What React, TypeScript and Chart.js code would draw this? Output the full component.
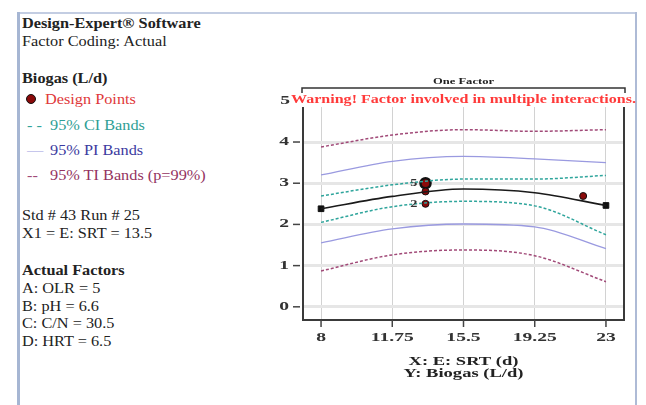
import React, { useEffect, useRef } from "react";
import { Chart, registerables } from "chart.js";
Chart.register(...registerables);

// ---- data ----
const srt = [8, 11.75, 15.5, 19.25, 23];
const predicted = [2.38, 2.68, 2.86, 2.77, 2.46];
const ciUpper = [2.69, 2.96, 3.1, 3.1, 3.19];
const ciLower = [2.05, 2.43, 2.56, 2.45, 1.75];
const piUpper = [3.2, 3.53, 3.65, 3.59, 3.5];
const piLower = [1.55, 1.89, 2.01, 1.94, 1.41];
const tiUpper = [3.88, 4.17, 4.3, 4.26, 4.3];
const tiLower = [0.87, 1.26, 1.38, 1.24, 0.61];
const designX = [13.5, 13.5, 13.5, 21.8];
const designY = [3.0, 2.8, 2.5, 2.69];
const designReps = ["5", "", "2", ""];
const xTicks = [8, 11.75, 15.5, 19.25, 23];
const yTicks = [0, 1, 2, 3, 4];
const yTopLabel = 5;

const SERIF = "'Liberation Serif', 'Times New Roman', serif";

const pts = (xs: number[], ys: number[]) => xs.map((x, i) => ({ x, y: ys[i] }));

// draw text horizontally stretched by sx
function wide(ctx: any, text: string, x: number, y: number, sx: number, align: "left" | "center" | "right") {
  const w = ctx.measureText(text).width * sx;
  let x0 = x;
  if (align === "center") x0 = x - w / 2;
  if (align === "right") x0 = x - w;
  ctx.save();
  ctx.textAlign = "left";
  ctx.translate(x0, y);
  ctx.scale(sx, 1);
  ctx.fillText(text, 0, 0);
  ctx.restore();
}

const overlay = {
  id: "overlay",
  afterDraw(chart: any) {
    const { ctx, chartArea } = chart;
    const { left, right, top, bottom } = chartArea;
    const xs = chart.scales.x;
    const ys = chart.scales.y;
    ctx.save();
    ctx.textBaseline = "middle";
    // frame
    ctx.strokeStyle = "#3a3a3a";
    ctx.lineWidth = 2;
    ctx.beginPath();
    ctx.moveTo(left, top);
    ctx.lineTo(left, bottom);
    ctx.lineTo(right, bottom);
    ctx.lineTo(right, top);
    ctx.stroke();
    // ticks
    ctx.lineWidth = 1.5;
    ctx.strokeStyle = "#444";
    yTicks.forEach((v) => {
      const p = ys.getPixelForValue(v);
      ctx.beginPath();
      ctx.moveTo(left - 10, p);
      ctx.lineTo(left - 3, p);
      ctx.stroke();
    });
    xTicks.forEach((v) => {
      const p = xs.getPixelForValue(v);
      ctx.beginPath();
      ctx.moveTo(p, bottom);
      ctx.lineTo(p, bottom + 7);
      ctx.stroke();
    });
    // tick labels
    ctx.fillStyle = "#333";
    ctx.font = `bold 11.5px ${SERIF}`;
    const tsx = 43 / ctx.measureText("11.75").width;
    xTicks.forEach((v) => {
      wide(ctx, String(v), xs.getPixelForValue(v), 338, tsx, "center");
    });
    yTicks.forEach((v) => {
      wide(ctx, String(v), 289, ys.getPixelForValue(v), tsx, "right");
    });
    // bracket "One Factor"
    ctx.strokeStyle = "#333";
    ctx.lineWidth = 1.5;
    ctx.beginPath();
    ctx.moveTo(left - 1, top - 14);
    ctx.lineTo(left - 1, top - 19);
    ctx.lineTo(right + 1, top - 19);
    ctx.lineTo(right + 1, top - 14);
    ctx.stroke();
    ctx.fillStyle = "#222";
    ctx.font = `bold 8.5px ${SERIF}`;
    const ofs = 61 / ctx.measureText("One Factor").width;
    wide(ctx, "One Factor", (left + right) / 2, top - 25, ofs, "center");
    // top "5" label + warning
    const p5 = ys.getPixelForValue(yTopLabel);
    ctx.font = `bold 11.5px ${SERIF}`;
    ctx.fillStyle = "#333";
    wide(ctx, String(yTopLabel), 290, p5, tsx, "right");
    ctx.fillStyle = "#ff3a3a";
    ctx.font = `bold 13px ${SERIF}`;
    const warn = "Warning! Factor involved in multiple interactions.";
    const wsx = 345 / ctx.measureText(warn).width;
    wide(ctx, warn, 291, p5 - 1, wsx, "left");
    // replicate labels
    const meta = chart.getDatasetMeta(7);
    ctx.font = `bold 11px ${SERIF}`;
    ctx.fillStyle = "#333";
    meta.data.forEach((el: any, i: number) => {
      if (designReps[i]) wide(ctx, designReps[i], el.x - 8, el.y, 1.3, "right");
    });
    // axis titles
    ctx.fillStyle = "#222";
    ctx.font = `bold 11.5px ${SERIF}`;
    const asx = 110 / ctx.measureText("X: E: SRT (d)").width;
    const cx = xs.getPixelForValue(15.5);
    wide(ctx, "X: E: SRT (d)", cx, 362, asx, "center");
    wide(ctx, "Y: Biogas (L/d)", cx, 374.5, asx, "center");
    ctx.restore();
  },
};

function ChartCanvas() {
  const ref = useRef<HTMLCanvasElement>(null);
  useEffect(() => {
    if (!ref.current) return;
    const dashed = (color: string, w = 1.5) => ({
      borderColor: color,
      borderWidth: w,
      borderDash: [3, 2],
      pointRadius: 0,
      fill: false,
      cubicInterpolationMode: "monotone" as const,
    });
    const solid = (color: string, w = 1.3) => ({
      borderColor: color,
      borderWidth: w,
      pointRadius: 0,
      fill: false,
      cubicInterpolationMode: "monotone" as const,
    });
    const chart = new Chart(ref.current, {
      type: "line",
      data: {
        datasets: [
          { label: "TI upper", data: pts(srt, tiUpper), ...dashed("#a14a78") },
          { label: "TI lower", data: pts(srt, tiLower), ...dashed("#a14a78") },
          { label: "PI upper", data: pts(srt, piUpper), ...solid("#9a9ae0") },
          { label: "PI lower", data: pts(srt, piLower), ...solid("#9a9ae0") },
          { label: "CI upper", data: pts(srt, ciUpper), ...dashed("#2fa59c") },
          { label: "CI lower", data: pts(srt, ciLower), ...dashed("#2fa59c") },
          { label: "Predicted", data: pts(srt, predicted), ...solid("#1a1a1a", 1.6) },
          {
            label: "Design Points",
            data: pts(designX, designY),
            showLine: false,
            pointRadius: designY.map((_, i) => (i === 0 ? 5 : 3.5)),
            pointBorderWidth: designY.map((_, i) => (i === 0 ? 2.5 : 1)),
            pointBackgroundColor: "#8a0a0a",
            pointBorderColor: "#111",
          },
          {
            label: "Ends",
            data: [
              { x: srt[0], y: predicted[0] },
              { x: srt[srt.length - 1], y: predicted[predicted.length - 1] },
            ],
            showLine: false,
            pointStyle: "rect",
            pointRadius: 4,
            pointBackgroundColor: "#111",
            pointBorderColor: "#111",
          },
        ],
      },
      options: {
        responsive: false,
        animation: false,
        layout: { padding: { left: 250, right: 22, top: 107, bottom: 0 } },
        plugins: { legend: { display: false }, tooltip: { enabled: false } },
        scales: {
          x: {
            type: "linear",
            min: 7.05,
            max: 23.95,
            afterBuildTicks: (s: any) => {
              s.ticks = xTicks.map((v) => ({ value: v }));
            },
            afterFit: (s: any) => {
              s.height = 85;
            },
            ticks: { display: false },
            grid: { color: "#d2d2d2", lineWidth: 1, drawTicks: false },
            border: { display: false },
          },
          y: {
            type: "linear",
            min: -0.32,
            max: 4.85,
            afterBuildTicks: (s: any) => {
              s.ticks = yTicks.map((v) => ({ value: v }));
            },
            afterFit: (s: any) => {
              s.width = 53;
            },
            ticks: { display: false },
            grid: { color: "#e6e6e6", lineWidth: 3, drawTicks: false },
            border: { display: false },
          },
        },
      },
      plugins: [overlay],
    } as any);
    return () => chart.destroy();
  }, []);
  return (
    <canvas
      ref={ref}
      width={646}
      height={405}
      style={{ position: "absolute", left: 0, top: 0, width: 646, height: 405 }}
    />
  );
}

const line = (top: number, text: string, extra: React.CSSProperties = {}) => (
  <div
    style={{
      position: "absolute",
      left: 22,
      top: top - 9,
      lineHeight: "18px",
      height: 18,
      whiteSpace: "nowrap",
      fontSize: 15,
      color: "#222",
      transform: "scaleX(1.085)",
      transformOrigin: "left center",
      ...extra,
    }}
  >
    {text}
  </div>
);

export default function App() {
  return (
    <div
      style={{
        position: "absolute",
        left: 0,
        top: 0,
        width: 646,
        height: 405,
        background: "#fff",
        fontFamily: SERIF,
        overflow: "hidden",
      }}
    >
      {/* page borders */}
      <div style={{ position: "absolute", left: 17, top: 12, width: 620, height: 2, background: "#c3cde2" }} />
      <div style={{ position: "absolute", left: 17, top: 12, width: 3, height: 400, background: "#a6b6d3" }} />
      <div style={{ position: "absolute", left: 635, top: 12, width: 2, height: 400, background: "#aebbd6" }} />

      {line(23, "Design-Expert® Software", { fontWeight: "bold" })}
      {line(41, "Factor Coding: Actual")}
      {line(78, "Biogas (L/d)", { fontWeight: "bold" })}

      <div
        style={{
          position: "absolute",
          left: 26,
          top: 94,
          width: 10,
          height: 10,
          borderRadius: "50%",
          background: "#8a0a0a",
          border: "1.5px solid #111",
          boxSizing: "border-box",
        }}
      />
      {line(99, "Design Points", { left: 45, color: "#e0383a" })}
      {line(125, "- -", { left: 27, color: "#2fa59c" })}
      {line(125, "95% CI Bands", { left: 50, color: "#2e9e95" })}
      {line(150, "—", { left: 27, color: "#9a9ae0" })}
      {line(150, "95% PI Bands", { left: 50, color: "#3b3aa0" })}
      {line(175, "--", { left: 27, color: "#a14a78" })}
      {line(175, "95% TI Bands (p=99%)", { left: 50, color: "#94335f" })}

      {line(215, "Std # 43 Run # 25")}
      {line(233, "X1 = E: SRT = 13.5")}
      {line(270, "Actual Factors", { fontWeight: "bold" })}
      {line(288, "A: OLR = 5")}
      {line(306, "B: pH = 6.6")}
      {line(323, "C: C/N = 30.5")}
      {line(341, "D: HRT = 6.5")}

      <ChartCanvas />
    </div>
  );
}
